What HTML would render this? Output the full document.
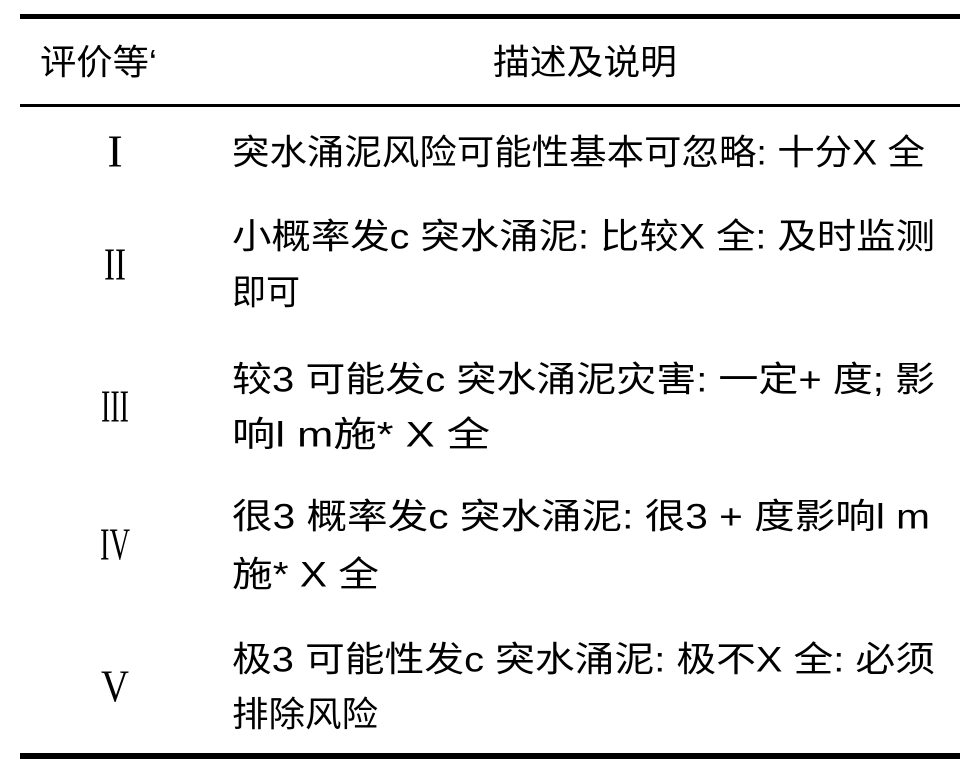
<!DOCTYPE html>
<html><head><meta charset="utf-8"><style>
html,body{margin:0;padding:0;background:#fff;}
svg{display:block}
text{font-family:"Liberation Sans","Noto Sans CJK SC",sans-serif;font-size:35px;fill:#000;dominant-baseline:central}
.r{font-family:"Liberation Serif","Noto Serif CJK SC",serif;font-size:46px;text-anchor:middle}
</style></head><body>
<svg width="979" height="776" viewBox="0 0 979 776" xmlns="http://www.w3.org/2000/svg">
<rect x="20" y="14" width="940" height="5" fill="#000"/>
<rect x="20" y="104" width="940" height="3" fill="#000"/>
<rect x="20" y="753" width="940" height="6" fill="#000"/>
<text x="40" y="63" textLength="117" lengthAdjust="spacingAndGlyphs">评价等‘</text>
<text x="493" y="63" textLength="184" lengthAdjust="spacingAndGlyphs">描述及说明</text>

<text class="r" x="115" y="151">I</text>
<text x="232" y="153" textLength="693" lengthAdjust="spacingAndGlyphs">突水涌泥风险可能性基本可忽略: 十分X 全</text>

<text class="r" x="115" y="264" textLength="22" lengthAdjust="spacingAndGlyphs">II</text>
<text x="232" y="237" textLength="703" lengthAdjust="spacingAndGlyphs">小概率发c  突水涌泥: 比较X 全: 及时监测</text>
<text x="232" y="293" textLength="68" lengthAdjust="spacingAndGlyphs">即可</text>

<text class="r" x="115" y="406" textLength="28" lengthAdjust="spacingAndGlyphs">III</text>
<text x="232" y="380" textLength="703" lengthAdjust="spacingAndGlyphs">较3  可能发c  突水涌泥灾害: 一定+  度;  影</text>
<text x="232" y="435" textLength="258" lengthAdjust="spacingAndGlyphs">响l   m施*  X 全</text>

<text class="r" x="115" y="544" textLength="30" lengthAdjust="spacingAndGlyphs">IV</text>
<text x="232" y="517" textLength="698" lengthAdjust="spacingAndGlyphs">很3  概率发c  突水涌泥: 很3  +  度影响l   m</text>
<text x="232" y="575" textLength="147" lengthAdjust="spacingAndGlyphs">施*  X 全</text>

<text class="r" x="115" y="686" textLength="28" lengthAdjust="spacingAndGlyphs">V</text>
<text x="232" y="660" textLength="703" lengthAdjust="spacingAndGlyphs">极3  可能性发c  突水涌泥: 极不X 全: 必须</text>
<text x="232" y="715" textLength="146" lengthAdjust="spacingAndGlyphs">排除风险</text>
</svg>
</body></html>
